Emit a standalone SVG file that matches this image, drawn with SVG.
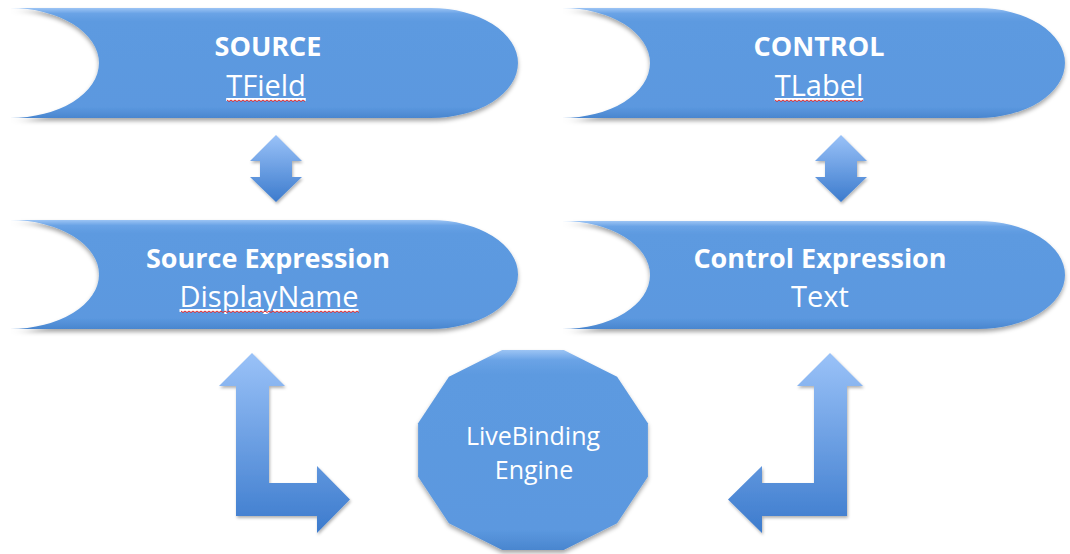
<svg xmlns="http://www.w3.org/2000/svg" width="1070" height="554" viewBox="0 0 1070 554">
  <defs>
    <linearGradient id="shapeFill" x1="0" y1="0" x2="0" y2="1">
      <stop offset="0" stop-color="#9cc4f4"/>
      <stop offset="0.05" stop-color="#6aa3e6"/>
      <stop offset="0.12" stop-color="#5d9ae0"/>
      <stop offset="0.9" stop-color="#5b98df"/>
      <stop offset="1" stop-color="#4a86cf"/>
    </linearGradient>
    <linearGradient id="arrowFill" x1="0" y1="0" x2="0" y2="1">
      <stop offset="0" stop-color="#9ac2f8"/>
      <stop offset="1" stop-color="#3c7bcd"/>
    </linearGradient>
    <filter id="shadow" x="-10%" y="-10%" width="120%" height="130%">
      <feDropShadow dx="0" dy="3" stdDeviation="2.2" flood-color="#000" flood-opacity="0.35"/>
    </filter>
    <filter id="ashadow" x="-10%" y="-10%" width="130%" height="130%">
      <feDropShadow dx="1" dy="2" stdDeviation="1.5" flood-color="#000" flood-opacity="0.3"/>
    </filter>
  </defs>
  <style>
    .shape { fill: url(#shapeFill); filter: url(#shadow); }
    .arrow { fill: url(#arrowFill); filter: url(#ashadow); }
    .title { font-family: "Open Sans", "Liberation Sans", sans-serif; font-weight: bold; font-size: 27px; fill: #ffffff; text-anchor: middle; }
    .sub { font-family: "Open Sans", "Liberation Sans", sans-serif; font-size: 29px; fill: #ffffff; text-anchor: middle; }
    .u { text-decoration: underline; }
    .engine { font-family: "Open Sans", "Liberation Sans", sans-serif; font-size: 25px; fill: #ffffff; text-anchor: middle; }
    .squiggle { fill: none; stroke: #e0282a; stroke-width: 1; }
  </style>
  <rect width="1070" height="554" fill="#ffffff"/>

  <g id="source">
    <path class="shape" d="M10,8 H431 A87,55 0 0 1 431,118 H10 A89,55 0 0 0 10,8 Z"/>
    <text class="title" x="268" y="56">SOURCE</text>
    <text class="sub u" x="266" y="96">TField</text>
    <path class="squiggle" d="M227,100 l2,1.5 l2,-1.5 l2,1.5 l2,-1.5 l2,1.5 l2,-1.5 l2,1.5 l2,-1.5 l2,1.5 l2,-1.5 l2,1.5 l2,-1.5 l2,1.5 l2,-1.5 l2,1.5 l2,-1.5 l2,1.5 l2,-1.5 l2,1.5 l2,-1.5 l2,1.5 l2,-1.5 l2,1.5 l2,-1.5 l2,1.5 l2,-1.5 l2,1.5 l2,-1.5 l2,1.5 l2,-1.5 l2,1.5 l2,-1.5 l2,1.5 l2,-1.5 l2,1.5 l2,-1.5 l2,1.5 l2,-1.5 l2,1.5"/>
  </g>

  <g id="control">
    <path class="shape" d="M562,8 H978 A87,55 0 0 1 978,118 H562 A88,55 0 0 0 562,8 Z"/>
    <text class="title" x="819" y="56">CONTROL</text>
    <text class="sub u" x="819" y="96">TLabel</text>
    <path class="squiggle" d="M775,100 l2,1.5 l2,-1.5 l2,1.5 l2,-1.5 l2,1.5 l2,-1.5 l2,1.5 l2,-1.5 l2,1.5 l2,-1.5 l2,1.5 l2,-1.5 l2,1.5 l2,-1.5 l2,1.5 l2,-1.5 l2,1.5 l2,-1.5 l2,1.5 l2,-1.5 l2,1.5 l2,-1.5 l2,1.5 l2,-1.5 l2,1.5 l2,-1.5 l2,1.5 l2,-1.5 l2,1.5 l2,-1.5 l2,1.5 l2,-1.5 l2,1.5 l2,-1.5 l2,1.5 l2,-1.5 l2,1.5 l2,-1.5 l2,1.5 l2,-1.5 l2,1.5 l2,-1.5 l2,1.5 l2,-1.5"/>
  </g>

  <g id="source-expression">
    <path class="shape" d="M10,220 H431 A87,54.5 0 0 1 431,329 H10 A89,54.5 0 0 0 10,220 Z"/>
    <text class="title" x="268" y="268">Source Expression</text>
    <text class="sub u" x="269" y="307">DisplayName</text>
    <path class="squiggle" d="M181,311 l2,1.5 l2,-1.5 l2,1.5 l2,-1.5 l2,1.5 l2,-1.5 l2,1.5 l2,-1.5 l2,1.5 l2,-1.5 l2,1.5 l2,-1.5 l2,1.5 l2,-1.5 l2,1.5 l2,-1.5 l2,1.5 l2,-1.5 l2,1.5 l2,-1.5 l2,1.5 l2,-1.5 l2,1.5 l2,-1.5 l2,1.5 l2,-1.5 l2,1.5 l2,-1.5 l2,1.5 l2,-1.5 l2,1.5 l2,-1.5 l2,1.5 l2,-1.5 l2,1.5 l2,-1.5 l2,1.5 l2,-1.5 l2,1.5 l2,-1.5 l2,1.5 l2,-1.5 l2,1.5 l2,-1.5 l2,1.5 l2,-1.5 l2,1.5 l2,-1.5 l2,1.5 l2,-1.5 l2,1.5 l2,-1.5 l2,1.5 l2,-1.5 l2,1.5 l2,-1.5 l2,1.5 l2,-1.5 l2,1.5 l2,-1.5 l2,1.5 l2,-1.5 l2,1.5 l2,-1.5 l2,1.5 l2,-1.5 l2,1.5 l2,-1.5 l2,1.5 l2,-1.5 l2,1.5 l2,-1.5 l2,1.5 l2,-1.5 l2,1.5 l2,-1.5 l2,1.5 l2,-1.5 l2,1.5 l2,-1.5 l2,1.5 l2,-1.5 l2,1.5 l2,-1.5 l2,1.5 l2,-1.5 l2,1.5 l2,-1.5 l2,1.5"/>
  </g>

  <g id="control-expression">
    <path class="shape" d="M562,221 H978 A87,54 0 0 1 978,329 H562 A88,54 0 0 0 562,221 Z"/>
    <text class="title" x="820" y="268">Control Expression</text>
    <text class="sub" x="820" y="307">Text</text>
  </g>

  <g id="livebinding-engine">
    <polygon class="shape" points="647.9,476.8 617.1,523.2 563.8,550 502.2,550 448.9,523.2 418.1,476.8 418.1,423.2 448.9,376.8 502.2,350 563.8,350 617.1,376.8 647.9,423.2"/>
    <text class="engine" x="533" y="445">LiveBinding</text>
    <text class="engine" x="534" y="479">Engine</text>
  </g>

  <g id="connectors">
    <polygon class="arrow" points="276,135 302,161 292,161 292,177 302,177 276,202 250,177 260,177 260,161 250,161"/>
    <polygon class="arrow" points="841,135 867,161 857,161 857,177 867,177 841,202 815,177 825,177 825,161 815,161"/>
    <polygon class="arrow" points="252,353 285,386 269,386 269,483 317,483 317,466 350,499.5 317,533 317,516 236,516 236,386 219,386"/>
    <polygon class="arrow" points="830,353 863,386 847,386 847,516 762,516 762,533 728,499.5 762,466 762,483 814,483 814,386 797,386"/>
  </g>
</svg>
